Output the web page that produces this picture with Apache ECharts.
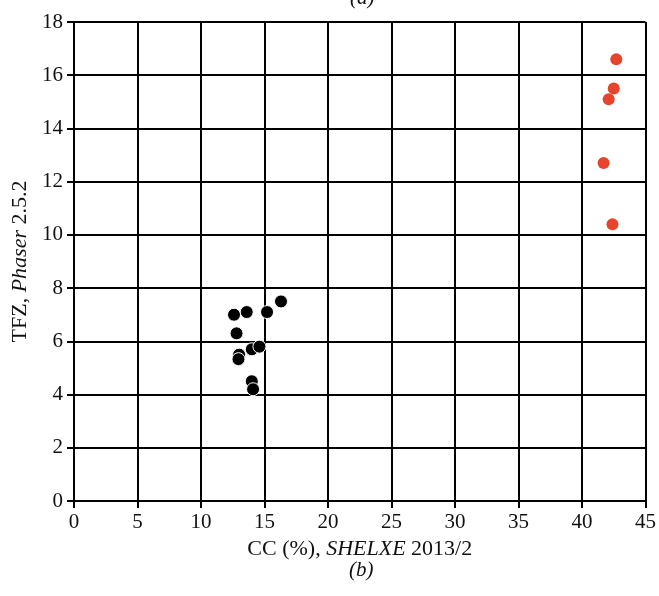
<!DOCTYPE html>
<html>
<head>
<meta charset="utf-8">
<script src="https://cdn.jsdelivr.net/npm/echarts@6/dist/echarts.min.js"></script>
<style>
  html, body { margin: 0; padding: 0; background: #fff; }
  #main { width: 659px; height: 596px; }
</style>
</head>
<body>
<div id="main"></div>
<script>
var chartDom = document.getElementById('main');
var myChart = echarts.init(chartDom);
var option;

// CC (%) vs TFZ, black = other solutions, red = correct solutions
const blackCC = [12.6, 13.6, 15.2, 16.3, 12.8, 13.0, 12.95, 14.0, 14.6, 14.0, 14.1];
const blackTFZ = [7.0, 7.1, 7.1, 7.5, 6.3, 5.5, 5.33, 5.7, 5.8, 4.5, 4.2];
const redCC = [42.7, 42.5, 42.1, 41.7, 42.4];
const redTFZ = [16.6, 15.5, 15.1, 12.7, 10.4];

const serif = 'Liberation Serif';

function pairs(xs, ys) {
  return xs.map(function (x, i) { return [x, ys[i]]; });
}

const nameRich = {
  a: { fontFamily: serif, fontSize: 22, color: '#111' },
  i: { fontFamily: serif, fontSize: 22, fontStyle: 'italic', color: '#111' }
};

const axisCommon = {
  type: 'value',
  axisLine: { show: true, onZero: false, lineStyle: { color: '#000', width: 2 } },
  axisTick: { show: true, inside: false, length: 7, lineStyle: { color: '#000', width: 2 } },
  splitLine: { show: true, lineStyle: { color: '#000', width: 2 } }
};

option = {
  animation: false,
  backgroundColor: '#fff',
  grid: { left: 74, right: 11, top: 22, bottom: 95, containLabel: false },
  xAxis: Object.assign({}, axisCommon, {
    min: 0, max: 45, interval: 5,
    name: '{a|CC (%), }{i|SHELXE}{a| 2013/2}',
    nameLocation: 'middle',
    nameGap: 34,
    nameTextStyle: { rich: nameRich },
    axisLabel: { color: '#111', fontFamily: serif, fontSize: 21, margin: 11 }
  }),
  yAxis: Object.assign({}, axisCommon, {
    min: 0, max: 18, interval: 2,
    name: '{a|TFZ, }{i|Phaser}{a| 2.5.2}',
    nameLocation: 'middle',
    nameGap: 42,
    nameTextStyle: { rich: nameRich },
    axisLabel: { color: '#111', fontFamily: serif, fontSize: 21, margin: 11 }
  }),
  graphic: [
    {
      type: 'text', left: 350, top: -12,
      style: { text: '(a)', font: 'italic 21px "Liberation Serif"', fill: '#111' }
    },
    {
      type: 'text', left: 349, top: 560,
      style: { text: '(b)', font: 'italic 21px "Liberation Serif"', fill: '#111' }
    }
  ],
  series: [
    {
      type: 'scatter',
      data: pairs(blackCC, blackTFZ),
      symbolSize: 13,
      itemStyle: { color: '#000', borderColor: '#fff', borderWidth: 1, opacity: 1 }
    },
    {
      type: 'scatter',
      data: pairs(redCC, redTFZ),
      symbolSize: 12,
      itemStyle: { color: '#e8432b', opacity: 1 }
    }
  ]
};

option && myChart.setOption(option);
</script>
</body>
</html>
